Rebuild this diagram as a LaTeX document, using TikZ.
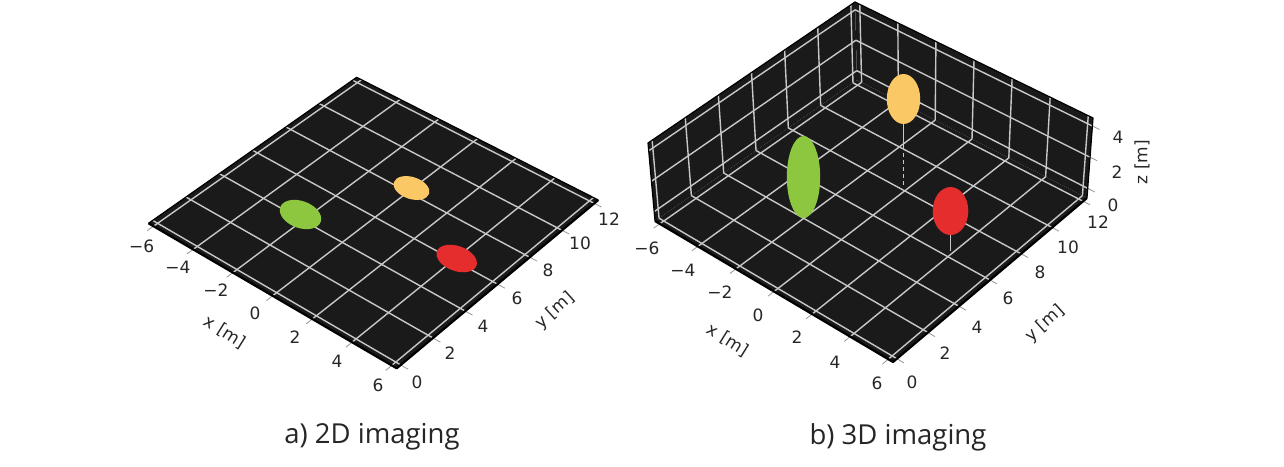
\documentclass[tikz,border=0pt]{standalone}
\usepackage{fontspec}
\setmainfont{DejaVu Sans}
\newfontfamily\capfont{Open Sans}
\usetikzlibrary{calc,shapes.geometric}
\definecolor{panecol}{RGB}{26,26,26}
\definecolor{gridcol}{RGB}{200,200,200}
\definecolor{tickcol}{RGB}{150,150,150}
\definecolor{grn}{RGB}{141,198,63}
\definecolor{yel}{RGB}{250,200,100}
\definecolor{rd}{RGB}{229,45,45}
\begin{document}
\begin{tikzpicture}[x=1pt,y=-1pt,
  gridln/.style={draw=gridcol,line width=1.4pt},
  edgeln/.style={draw=black,line width=2.2pt,line join=round},
  backedge/.style={draw=black,line width=1.2pt,line join=round},
  tickln/.style={draw=tickcol,line width=0.8pt},
  ticklab/.style={font=\fontsize{17}{17}\selectfont,inner sep=0pt,text=black!85},
  axlab/.style={font=\fontsize{17}{17}\selectfont,inner sep=0pt,text=black!85},
  capt/.style={font=\capfont\fontsize{27.5}{27.5}\selectfont,inner sep=0pt,text=black!85},
  disc/.style={ellipse,inner sep=0pt,outer sep=0pt,draw=none},
  stem/.style={draw=gridcol,line width=1.1pt}]
\useasboundingbox (0,0) rectangle (1284,466);

%% ---------------- a) 2D imaging ----------------
\coordinate (L2) at (148.5,223.3);
\coordinate (B2) at (396.7,368.3);
\coordinate (R2) at (598.3,200);
\coordinate (T2) at (356.7,77.3);
\fill[panecol] (L2)--(B2)--(R2)--(T2)--cycle;
\foreach \k in {0,...,6}{
  \pgfmathsetmacro\f{0.02+0.16*\k}
  \draw[gridln] ($(L2)!\f!(B2)$) -- ($(T2)!\f!(R2)$);
  \draw[gridln] ($(L2)!\f!(T2)$) -- ($(B2)!\f!(R2)$);
  \coordinate (pa) at ($(L2)!\f!(B2)$);
  \coordinate (qa) at ($(T2)!\f!(R2)$);
  \draw[tickln] ($(pa)!-0.03!(qa)$) -- (pa);
  \coordinate (pb) at ($(B2)!\f!(R2)$);
  \coordinate (qb) at ($(L2)!\f!(T2)$);
  \draw[tickln] ($(pb)!-0.03!(qb)$) -- (pb);
}
\draw[backedge] (L2)--(T2)--(R2);
\draw[edgeln] (L2)--(B2)--(R2);

\node[disc,fill=grn,minimum width=43pt,minimum height=27pt,rotate=-20] (g2) at (300.5,214.5) {};
\node[disc,fill=yel,minimum width=37pt,minimum height=22pt,rotate=-18] (y2) at (411.5,188) {};
\node[disc,fill=rd,minimum width=42pt,minimum height=25pt,rotate=-20] (r2) at (456.7,258.5) {};

\foreach \px/\py/\t [count=\i] in {141.7/246.7/−6,178/267/−4,216/290/−2,255/313/0,295/337/2,337/361/4,378/385/6}
  \node[ticklab] (ax\i) at (\px,\py) {\t};
\foreach \px/\py/\t [count=\i] in {417/382/0,450/353/2,483/326/4,517/298/6,548/270/8,580/243/10,609/219/12}
  \node[ticklab] (ay\i) at (\px,\py) {\t};
\node[axlab,rotate=-32] (axl) at (225,332) {x [m]};
\node[axlab,rotate=42] (ayl) at (555,311) {y [m]};

%% ---------------- b) 3D imaging ----------------
\coordinate (FL) at (655,221);
\coordinate (FB) at (893,362);
\coordinate (FR) at (1087,198);
\coordinate (FK) at (857,80);
\coordinate (TL) at (648,143);
\coordinate (TK) at (855,2);
\coordinate (TR) at (1093,118);
\fill[panecol] (FL)--(FK)--(TK)--(TL)--cycle;
\fill[panecol] (FK)--(FR)--(TR)--(TK)--cycle;
\fill[panecol] (FL)--(FB)--(FR)--(FK)--cycle;
\foreach \k in {0,...,6}{
  \pgfmathsetmacro\f{0.02+0.16*\k}
  \draw[gridln] ($(FL)!\f!(FK)$) -- ($(TL)!\f!(TK)$);
  \draw[gridln] ($(FK)!\f!(FR)$) -- ($(TK)!\f!(TR)$);
  \draw[gridln] ($(FL)!\f!(FB)$) -- ($(FK)!\f!(FR)$);
  \draw[gridln] ($(FL)!\f!(FK)$) -- ($(FB)!\f!(FR)$);
  \coordinate (pa) at ($(FL)!\f!(FB)$);
  \coordinate (qa) at ($(FK)!\f!(FR)$);
  \draw[tickln] ($(pa)!-0.03!(qa)$) -- (pa);
  \coordinate (pb) at ($(FB)!\f!(FR)$);
  \coordinate (qb) at ($(FL)!\f!(FK)$);
  \draw[tickln] ($(pb)!-0.03!(qb)$) -- (pb);
}
\foreach \w in {0.12,0.51,0.90}{
  \draw[gridln] ($(FL)!\w!(TL)$) -- ($(FK)!\w!(TK)$);
  \draw[gridln] ($(FK)!\w!(TK)$) -- ($(FR)!\w!(TR)$);
  \coordinate (pz) at ($(FR)!\w!(TR)$);
  \coordinate (qz) at ($(FK)!\w!(TK)$);
  \draw[tickln] ($(pz)!-0.03!(qz)$) -- (pz);
}
\draw[backedge] (FL)--(TL)--(TK)--(TR)--(FR);
\draw[edgeln] (FL)--(FB)--(FR);

\node[disc,fill=grn,minimum width=33.4pt,minimum height=82pt] (g3) at (803.5,177) {};
\node[disc,fill=yel,minimum width=33.4pt,minimum height=50pt] (y3) at (903.5,99) {};
\node[disc,fill=rd,minimum width=35.6pt,minimum height=48pt] (r3) at (950.5,211) {};
\coordinate (y3m) at (903.5,146);
\coordinate (y3f) at (903.5,185);
\coordinate (r3f) at (950.5,251);
\draw[stem] (y3.south) -- (y3m);
\draw[stem,dash pattern=on 4pt off 3pt] (y3m) -- (y3f);
\draw[stem] (r3.south) -- (r3f);

\foreach \px/\py/\t [count=\i] in {647/248/−6,683/270/−4,720/292/−2,758/315/0,797/337/2,835/362/4,877/383/6}
  \node[ticklab] (bx\i) at (\px,\py) {\t};
\foreach \px/\py/\t [count=\i] in {912/382/0,945/353/2,977/327/4,1008/298/6,1040/272/8,1068/247/10,1098/222/12}
  \node[ticklab] (by\i) at (\px,\py) {\t};
\foreach \px/\py/\t [count=\i] in {1113/205/0,1117/172/2,1118/137/4}
  \node[ticklab] (bz\i) at (\px,\py) {\t};
\node[axlab,rotate=-32] (bxl) at (728,340) {x [m]};
\node[axlab,rotate=42] (byl) at (1045,324) {y [m]};
\node[axlab,rotate=90] (bzl) at (1142,162) {z [m]};

%% captions
\node[capt] (capa) at (372,437) {a) 2D imaging};
\node[capt] (capb) at (898,437) {b) 3D imaging};
\end{tikzpicture}
\end{document}
